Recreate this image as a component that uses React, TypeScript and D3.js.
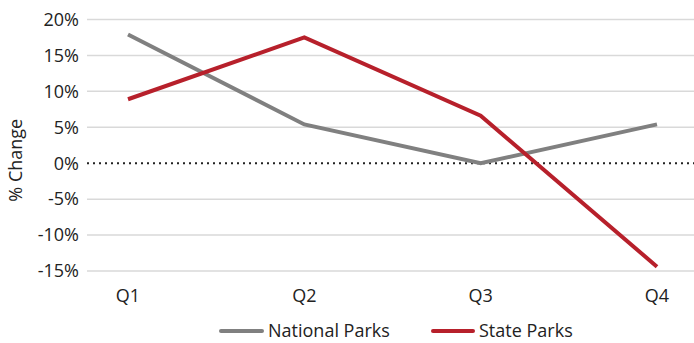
import React from "react";
import * as d3 from "d3";

const quarters = ["Q1", "Q2", "Q3", "Q4"];
const nationalParks = [17.9, 5.4, 0.0, 5.4];
const stateParks = [8.9, 17.5, 6.6, -14.4];
const yTicks = [20, 15, 10, 5, 0, -5, -10, -15];

const W = 694;
const H = 343;
const FONT = "'Open Sans', 'Noto Sans', sans-serif";
const GRAY = "#808080";
const RED = "#b7202b";

export default function App() {
  const x = d3.scalePoint<string>().domain(quarters).range([128, 657]);
  const y = d3.scaleLinear().domain([-15, 20]).range([271, 19.5]);
  const line = d3
    .line<number>()
    .x((_, i) => x(quarters[i]) as number)
    .y((d) => y(d));

  const gridLeft = 87;
  const gridRight = 694;

  return (
    <svg
      width={W}
      height={H}
      style={{ position: "absolute", left: 0, top: 0, background: "#fff" }}
      fontFamily={FONT}
    >
      {yTicks.map((t) =>
        t === 0 ? null : (
          <line
            key={t}
            x1={gridLeft}
            x2={gridRight}
            y1={y(t)}
            y2={y(t)}
            stroke="#d9d9d9"
            strokeWidth={1.5}
          />
        )
      )}
      <line
        x1={gridLeft}
        x2={gridRight}
        y1={y(0)}
        y2={y(0)}
        stroke="#222"
        strokeWidth={2}
        strokeDasharray="2 4"
      />
      {yTicks.map((t) => (
        <text
          key={t}
          x={79}
          y={y(t)}
          dy="0.35em"
          textAnchor="end"
          fontSize={18}
          fill="#222"
        >
          {`${t}%`}
        </text>
      ))}
      {quarters.map((q) => (
        <text
          key={q}
          x={x(q)}
          y={296}
          dy="0.35em"
          textAnchor="middle"
          fontSize={18}
          fill="#222"
        >
          {q}
        </text>
      ))}
      <text
        transform={`translate(16,${y(0) - 3}) rotate(-90)`}
        textAnchor="middle"
        dy="0.35em"
        fontSize={18}
        fill="#222"
      >
        % Change
      </text>
      <path d={line(nationalParks) ?? ""} fill="none" stroke={GRAY} strokeWidth={4} strokeLinejoin="miter" />
      <path d={line(stateParks) ?? ""} fill="none" stroke={RED} strokeWidth={4} strokeLinejoin="miter" />
      <g>
        <line x1={221} x2={262} y1={331} y2={331} stroke={GRAY} strokeWidth={4} strokeLinecap="round" />
        <text x={268} y={331} dy="0.35em" fontSize={18} fill="#222">
          National Parks
        </text>
        <line x1={433} x2={473} y1={331} y2={331} stroke={RED} strokeWidth={4} strokeLinecap="round" />
        <text x={479} y={331} dy="0.35em" fontSize={18} fill="#222">
          State Parks
        </text>
      </g>
    </svg>
  );
}
